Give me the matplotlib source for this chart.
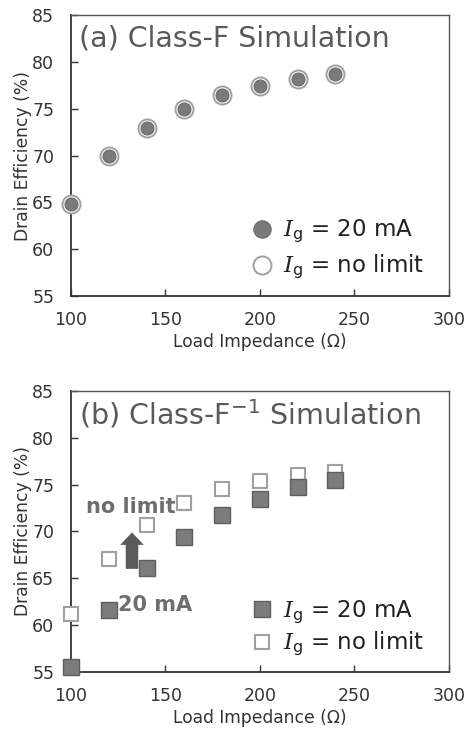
import matplotlib
matplotlib.use("Agg")
import matplotlib.pyplot as plt
import numpy as np

plt.rcParams['font.family'] = ['DejaVu Sans']
plt.rcParams['mathtext.fontset'] = 'custom'
plt.rcParams['mathtext.it'] = 'DejaVu Serif:italic'
plt.rcParams['mathtext.rm'] = 'DejaVu Sans'

# load impedance (ohm)
impedance = [100, 120, 140, 160, 180, 200, 220, 240]

# (a) class-F
eff_f_20ma = [64.8, 70.0, 73.0, 75.0, 76.5, 77.5, 78.2, 78.7]
eff_f_nolimit = [64.8, 70.0, 73.0, 75.0, 76.5, 77.5, 78.2, 78.7]

# (b) class-F^-1
eff_inv_20ma = [55.5, 61.6, 66.1, 69.4, 71.8, 73.5, 74.7, 75.5]
eff_inv_nolimit = [61.2, 67.1, 70.7, 73.0, 74.5, 75.4, 76.0, 76.3]

xticks = [100, 150, 200, 250, 300]
yticks = [55, 60, 65, 70, 75, 80, 85]

fig = plt.figure(figsize=(4.67, 7.31), dpi=100)
ax1 = fig.add_axes([0.152, 0.595, 0.809, 0.384])
ax2 = fig.add_axes([0.152, 0.081, 0.809, 0.384])

dark = '#333333'
title_col = '#595959'


def style_axes(ax):
    ax.set_xlim(100, 300)
    ax.set_ylim(55, 85)
    ax.set_xticks(xticks)
    ax.set_yticks(yticks)
    ax.tick_params(direction='in', length=5, width=1, colors=dark,
                   labelsize=12.5)
    ax.tick_params(axis='y', pad=12)
    ax.tick_params(axis='x', pad=11)
    for side in ['left', 'bottom']:
        ax.spines[side].set_color(dark)
        ax.spines[side].set_linewidth(1.3)
    for side in ['top', 'right']:
        ax.spines[side].set_color('#555555')
        ax.spines[side].set_linewidth(1.0)
    ax.set_xlabel('Load Impedance (Ω)', fontsize=12.3, color=dark, labelpad=3)
    ax.set_ylabel('Drain Efficiency (%)', fontsize=12.3, color=dark, labelpad=0)


# top panel
style_axes(ax1)
h_open, = ax1.plot(impedance, eff_f_nolimit, 'o', ms=13, mfc='white',
                   mec='#a0a0a0', mew=1.4, clip_on=False, zorder=3)
h_fill, = ax1.plot(impedance, eff_f_20ma, 'o', ms=9.3, mfc='#7a7a7a',
                   mec='#6a6a6a', mew=0.8, clip_on=False, zorder=4)
leg_fill, = ax1.plot([], [], 'o', ms=12.5, mfc='#7a7a7a', mec='#6a6a6a', mew=0.8)
ax1.text(0.02, 0.918, '(a) Class-F Simulation', transform=ax1.transAxes,
         fontsize=20.5, color=title_col, ha='left', va='center')
ax1.legend([leg_fill, h_open], [r'$I_{\rm g}$ = 20 mA', r'$I_{\rm g}$ = no limit'],
           loc='lower left', bbox_to_anchor=(0.445, 0.02), frameon=False,
           fontsize=16.5, handletextpad=0.3, handlelength=1.2,
           labelspacing=0.35, borderaxespad=0, labelcolor='#222222')

# bottom panel
style_axes(ax2)
s_open, = ax2.plot(impedance, eff_inv_nolimit, 's', ms=10.5, mfc='white',
                   mec='#a0a0a0', mew=1.5, clip_on=False, zorder=3)
s_fill, = ax2.plot(impedance, eff_inv_20ma, 's', ms=11, mfc='#7c7c7c',
                   mec='#5e5e5e', mew=1.0, clip_on=False, zorder=4)
ax2.text(0.02, 0.918, '(b) Class-F$^{\\mathrm{-1}}$ Simulation',
         transform=ax2.transAxes, fontsize=20.5, color=title_col,
         ha='left', va='center')
ax2.text(108.0, 72.6, 'no limit', fontsize=15, fontweight='bold',
         color='#6e6e6e', ha='left', va='center')
ax2.text(125.0, 62.1, '20 mA', fontsize=15, fontweight='bold',
         color='#6e6e6e', ha='left', va='center')
ax2.annotate('', xy=(132.3, 69.9), xytext=(132.3, 66.0),
             arrowprops=dict(arrowstyle='simple,head_width=0.85,head_length=0.45,tail_width=0.45',
                             mutation_scale=20, color='#5a5a5a', lw=0,
                             shrinkA=0, shrinkB=0))
ax2.legend([s_fill, s_open], [r'$I_{\rm g}$ = 20 mA', r'$I_{\rm g}$ = no limit'],
           loc='lower left', bbox_to_anchor=(0.445, 0.015), frameon=False,
           fontsize=16.5, handletextpad=0.3, handlelength=1.2,
           labelspacing=0.2, borderaxespad=0, labelcolor='#222222')

fig.savefig('out.png', dpi=100)
